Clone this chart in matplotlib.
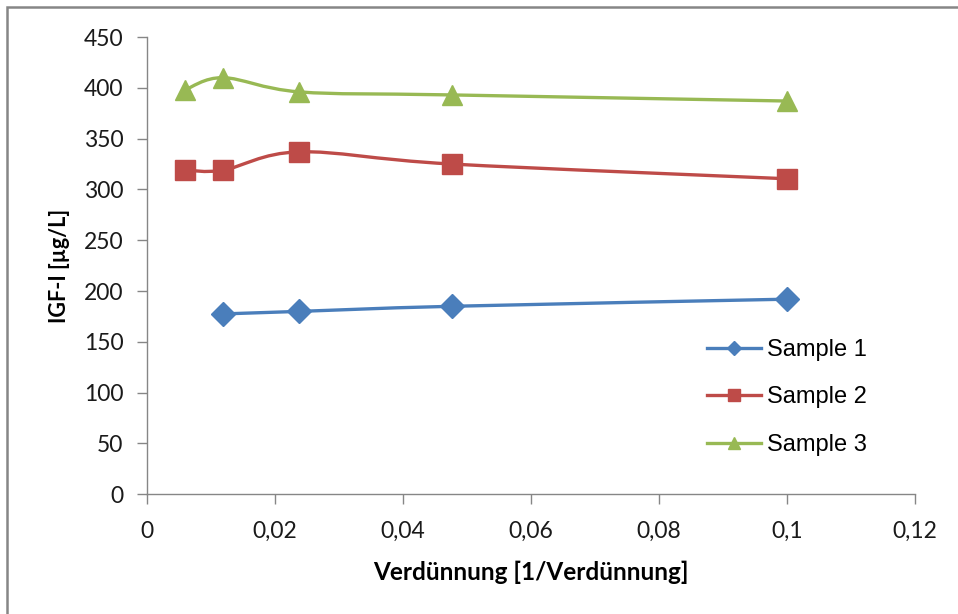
import matplotlib
matplotlib.use("Agg")
import matplotlib.pyplot as plt
import numpy as np
from matplotlib.path import Path
from matplotlib.patches import PathPatch, Rectangle
from matplotlib.lines import Line2D

# Data
x1 = [0.0119, 0.0238, 0.0476, 0.1]
s1 = [177.5, 180.0, 185.0, 192.0]
x2 = [0.00595, 0.0119, 0.0238, 0.0476, 0.1]
s2 = [319.0, 319.0, 337.0, 325.0, 310.5]
x3 = [0.00595, 0.0119, 0.0238, 0.0476, 0.1]
s3 = [398.0, 410.0, 396.0, 393.0, 387.0]
series_names = ["Sample 1", "Sample 2", "Sample 3"]
xticks = [0, 0.02, 0.04, 0.06, 0.08, 0.1, 0.12]
xtick_labels = ["0", "0,02", "0,04", "0,06", "0,08", "0,1", "0,12"]
yticks = [0, 50, 100, 150, 200, 250, 300, 350, 400, 450]

colors = ["#4A7EBB", "#BE4B48", "#98B954"]
markers = ["D", "s", "^"]
msizes = [12, 14.5, 15]

W, H = 958, 614
fig = plt.figure(figsize=(W / 100, H / 100), dpi=100)
fig.patch.set_facecolor("white")
# outer chart border (left/top visible)
fig.patches.append(Rectangle((7 / W, -0.05), 1.2, (H - 7) / H + 0.05, transform=fig.transFigure,
                             fill=False, edgecolor="#868686", linewidth=1.8))

ax = fig.add_axes([147 / W, (H - 494.3) / H, (915 - 147) / W, (494.3 - 37) / H])
ax.set_xlim(0, 0.12)
ax.set_ylim(0, 450)

def smooth_path(xs, ys):
    pts = np.column_stack([xs, ys])
    n = len(pts)
    verts = [pts[0]]
    codes = [Path.MOVETO]
    for i in range(n - 1):
        p0 = pts[i - 1] if i > 0 else pts[i]
        p1 = pts[i]
        p2 = pts[i + 1]
        p3 = pts[i + 2] if i + 2 < n else pts[i + 1]
        c1 = p1 + (p2 - p0) / 6.0
        c2 = p2 - (p3 - p1) / 6.0
        verts += [c1, c2, p2]
        codes += [Path.CURVE4] * 3
    return Path(verts, codes)

data = [(x1, s1), (x2, s2), (x3, s3)]
handles = []
for (xs, ys), c, m, ms, name in zip(data, colors, markers, msizes, series_names):
    patch = PathPatch(smooth_path(xs, ys), facecolor="none", edgecolor=c, linewidth=2.4,
                      capstyle="round", joinstyle="round", zorder=2)
    ax.add_patch(patch)
    ax.plot(xs, ys, linestyle="none", marker=m, markersize=ms, color=c, zorder=3)
    handles.append(Line2D([], [], color=c, linewidth=2.4, marker=m, markersize=ms * 0.6, label=name))

for s in ["top", "right"]:
    ax.spines[s].set_visible(False)
for s in ["left", "bottom"]:
    ax.spines[s].set_color("#868686")
    ax.spines[s].set_linewidth(1.0)

ax.set_xticks(xticks)
ax.set_xticklabels(xtick_labels)
ax.set_yticks(yticks)
ax.tick_params(axis="both", direction="out", length=7, width=1.0, color="#868686",
               labelsize=16.5, labelcolor="#1a1a1a")
ax.tick_params(axis="x", pad=12)
ax.tick_params(axis="y", pad=10)
for lab in ax.get_xticklabels() + ax.get_yticklabels():
    lab.set_family("Lato")

ax.set_xlabel("Verdünnung [1/Verdünnung]", fontsize=17.5, fontweight="bold", family="Lato",
              labelpad=14)
ax.set_ylabel("IGF-I [µg/L]", fontsize=15.5, fontweight="bold", family="Lato", labelpad=10)

leg = ax.legend(handles=handles, loc="upper left",
                bbox_to_anchor=((695 - 147) / (915 - 147), (494.3 - 327) / (494.3 - 37)),
                frameon=False, prop={"family": "Liberation Sans", "size": 17},
                handlelength=2.3, handletextpad=0.25, labelspacing=1.08, borderpad=0)

fig.savefig("out.png", dpi=100, facecolor="white")
